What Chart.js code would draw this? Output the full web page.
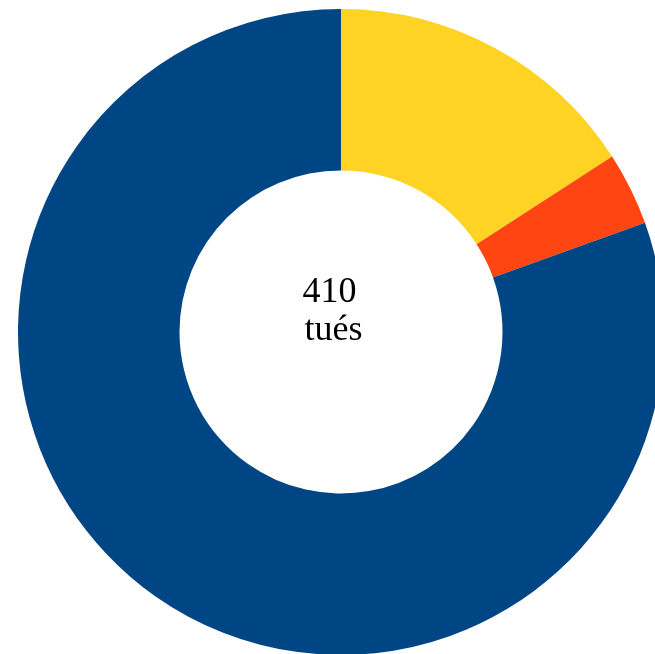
<!DOCTYPE html>
<html>
<head>
<meta charset="utf-8">
<script src="https://cdn.jsdelivr.net/npm/chart.js@4"></script>
<style>
  html, body { margin: 0; padding: 0; background: #fff; overflow: hidden; }
  #wrap { position: absolute; left: 18px; top: 9px; width: 646px; height: 646px; }
</style>
</head>
<body>
<div id="wrap"><canvas id="donut" width="646" height="646"></canvas></div>
<script>
const labels = ['Catégorie A', 'Catégorie B', 'Catégorie C'];
const values = [65, 15, 330];
const colors = ['#FFD324', '#FF4612', '#004684'];
const centerLines = ['410', 'tués'];

/* ── texte au centre ── */
const centerText = {
  id: 'centerText',
  afterDraw(chart) {
    const { ctx } = chart;
    const arc = chart.getDatasetMeta(0).data[0];
    ctx.save();
    ctx.fillStyle = '#000';
    ctx.font = '36px "Liberation Serif", serif';
    ctx.textAlign = 'center';
    ctx.textBaseline = 'alphabetic';
    ctx.fillText(centerLines[0], arc.x - 11.5, arc.y - 30);
    ctx.fillText(centerLines[1], arc.x - 7.5, arc.y + 8);
    ctx.restore();
  }
};

new Chart(document.getElementById('donut'), {
  type: 'doughnut',
  data: {
    labels,
    datasets: [{
      data: values,
      backgroundColor: colors,
      borderWidth: 0,
    }]
  },
  options: {
    responsive: false,
    animation: false,
    cutout: '50%',
    layout: { padding: 0 },
    plugins: { legend: { display: false }, tooltip: { enabled: false } }
  },
  plugins: [centerText]
});
</script>
</body>
</html>
